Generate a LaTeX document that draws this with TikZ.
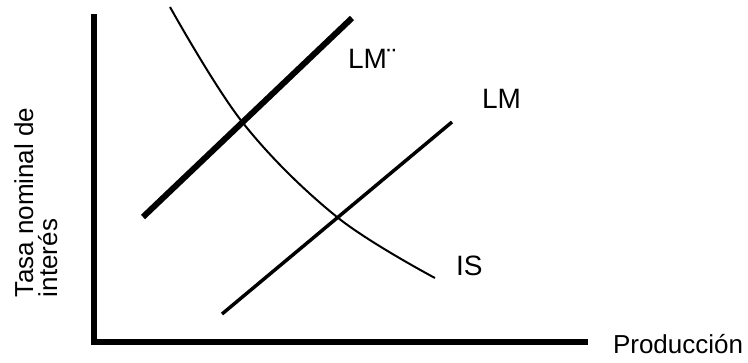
\documentclass[tikz,border=0pt]{standalone}
\usepackage{fontspec}
\setmainfont{Liberation Sans}
\usetikzlibrary{positioning}

\begin{document}
\begin{tikzpicture}[
    x=0.75pt, y=-0.75pt,
    every node/.style={inner sep=0pt, outer sep=0pt},
    axisline/.style={line width=4.5pt, line cap=rect},
    curvelabel/.style={font=\fontsize{21}{24}\selectfont, anchor=base west},
    axislabel/.style={font=\fontsize{19.5}{22}\selectfont, anchor=base west},
    lmline/.style={line width=#1},
    isline/.style={line width=1.5pt},
]

% Frame
\useasboundingbox (0,0) rectangle (748,362);

% Axes
\coordinate (top) at (93.5,17);
\coordinate (origin) at (93.5,341.5);
\coordinate (right) at (585,341.5);
\draw[axisline] (top) -- (origin) -- (right);

% LM curves
\coordinate (lmA1) at (143,217);
\coordinate (lmA2) at (352,18);
\draw[lmline=4.5pt] (lmA1) -- (lmA2);

\coordinate (lmB1) at (222,314);
\coordinate (lmB2) at (452,122);
\draw[lmline=2.6pt] (lmB1) -- (lmB2);

% IS curve
\draw[isline] plot[smooth, tension=0.6] coordinates {(170,7) (243,123) (337,217) (435,278)};

% Labels
\node[curvelabel] (lmAlabel) at (348,68) {LM¨};
\node[curvelabel] (lmBlabel) at (482,108) {LM};
\node[curvelabel] (islabel) at (456,275) {IS};
\node[axislabel] (xlabel) at (613,353) {Producción};
\node[axislabel, rotate=90] (ylabelA) at (33,297) {Tasa nominal de};
\node[axislabel, rotate=90] (ylabelB) at (57,297) {interés};

\end{tikzpicture}
\end{document}
